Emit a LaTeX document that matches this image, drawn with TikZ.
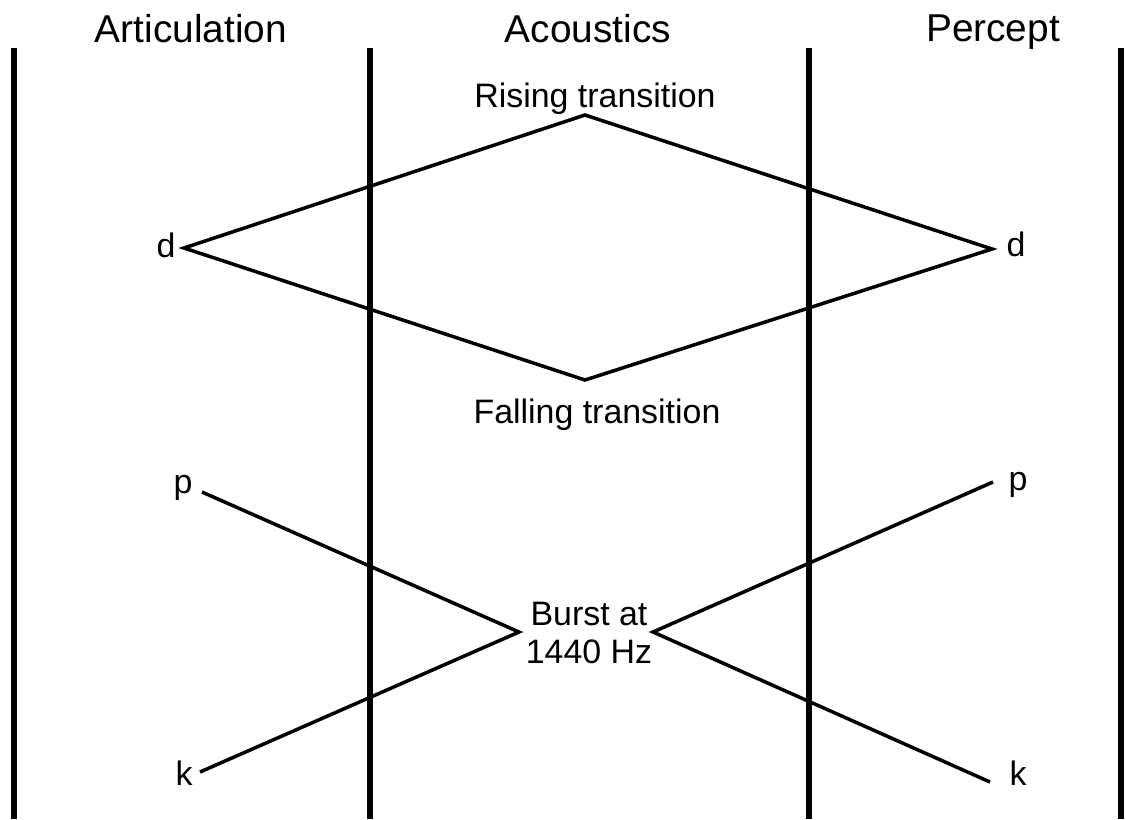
\documentclass[tikz,border=0pt]{standalone}
\usepackage{fontspec}
\setmainfont{Liberation Sans}
\begin{document}
\begin{tikzpicture}[x=0.02cm, y=-0.02cm,
    head/.style={font=\fontsize{22.1}{26}\selectfont, anchor=base, inner sep=0pt},
    lbl/.style={font=\fontsize{19.3}{21.5}\selectfont, anchor=base, inner sep=0pt},
    rule/.style={line width=3.7pt},
    link/.style={line width=2pt, line join=miter}]
        \useasboundingbox (0,0) rectangle (1126,819);

        % Column headings
        \node (artic) at (191,42) [head] {Articulation};
        \node (acous) at (588,42) [head] {Acoustics};
        \node (percept) at (993,41) [head] {Percept};

        % Column rules
        \draw[rule] (14,48) -- (14,819);
        \draw[rule] (370,48) -- (370,819);
        \draw[rule] (809,48) -- (809,819);
        \draw[rule] (1121,48) -- (1121,819);

        % Phoneme labels (left and right)
        \node (dleft) at (166,257) [lbl] {d};
        \node (pleft) at (183,493) [lbl] {p};
        \node (kleft) at (184,785) [lbl] {k};
        \node (dright) at (1016,256) [lbl] {d};
        \node (pright) at (1018,490) [lbl] {p};
        \node (kright) at (1018,785) [lbl] {k};

        % Acoustic cues
        \node (rising) at (595,107) [lbl] {Rising transition};
        \node (falling) at (597,423) [lbl] {Falling transition};
        \node (burst) at (589,633) [lbl, anchor=center, align=center] {Burst at\\1440 Hz};

        % Line ends
        \coordinate (dl) at (184,248);
        \coordinate (rise) at (585,115);
        \coordinate (dr) at (992,249);
        \coordinate (fall) at (585,380);
        \coordinate (pl) at (202,492);
        \coordinate (kl) at (200,772);
        \coordinate (bl) at (519,632);
        \coordinate (br) at (653,632);
        \coordinate (pr) at (993,482);
        \coordinate (kr) at (990,782);

        % Edges (d: rising and falling)
        \draw[link] (dl) -- (rise) -- (dr) -- (fall) -- cycle;

        % Edges (p and k through the burst)
        \draw[link] (pl) -- (bl) -- (kl);
        \draw[link] (pr) -- (br) -- (kr);
      \end{tikzpicture}
\end{document}
